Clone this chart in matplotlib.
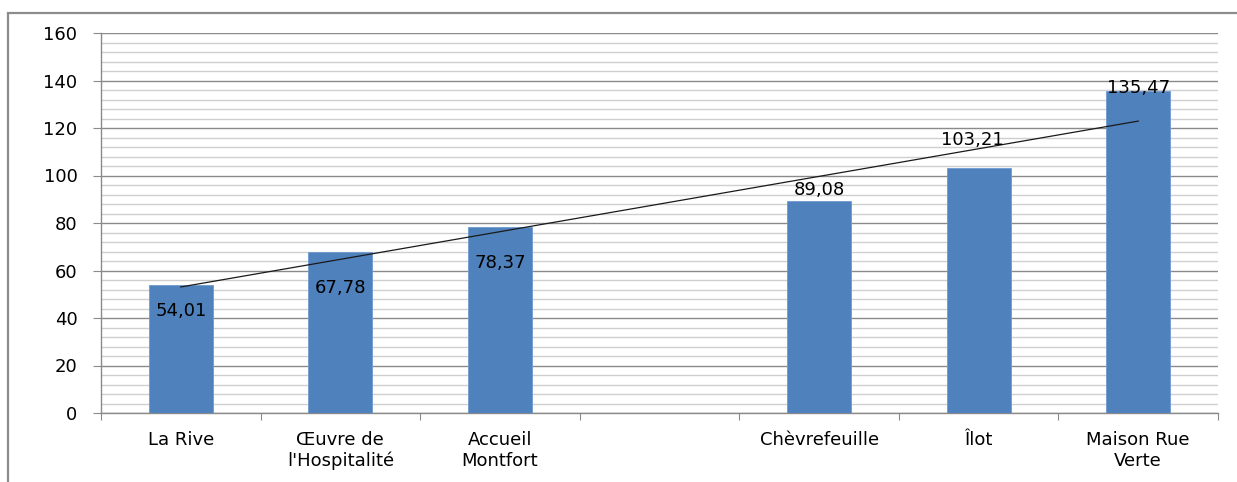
import numpy as np
import matplotlib
matplotlib.use('Agg')
import matplotlib.pyplot as plt
from matplotlib.patches import Rectangle
from matplotlib.ticker import MultipleLocator, FixedLocator

categories = ['La Rive', "Œuvre de\nl'Hospitalité", 'Accueil\nMontfort', '',
              'Chèvrefeuille', 'Îlot', 'Maison Rue\nVerte']
values = [54.01, 67.78, 78.37, np.nan, 89.08, 103.21, 135.47]
value_labels = ['54,01', '67,78', '78,37', '', '89,08', '103,21', '135,47']

# where Excel put the data labels, relative to the bar top
label_dy = [-10.9, -15.2, -15.2, 0, 4.8, 11.7, 1.2]
label_dx = [0, 0, 0, 0, 0, -0.04, 0]

BAR_COLOR = '#4f81bd'
FS = 13

fig = plt.figure(figsize=(12.37, 4.82), dpi=100)
ax = fig.add_axes([101 / 1237, 1 - 413 / 482, (1218 - 101) / 1237, (413 - 33) / 482])

# outer chart frame
fig.patches.append(Rectangle((8 / 1237, -0.1), 1.2, 0.1 + 1 - 13 / 482,
                             transform=fig.transFigure, fill=False,
                             edgecolor='#8c8c8c', lw=1.6))

x = np.arange(len(categories))
ax.bar(x, values, width=0.4, color=BAR_COLOR, edgecolor='#6f9bd1', lw=0.6, zorder=3)

# linear trendline over the bars that have a value
vals = np.array(values)
ok = ~np.isnan(vals)
slope, icpt = np.polyfit(x[ok], vals[ok], 1)
xt = np.array([x[ok][0], x[ok][-1]])
ax.plot(xt, slope * xt + icpt, color='#1a1a1a', lw=0.9, zorder=4)

for i in range(len(values)):
    if value_labels[i] == '':
        continue
    ax.text(x[i] + label_dx[i], values[i] + label_dy[i], value_labels[i],
            ha='center', va='center', fontsize=FS, color='black', zorder=5)

ax.set_xlim(-0.5, len(categories) - 0.5)
ax.set_ylim(0, 160)
ax.yaxis.set_major_locator(MultipleLocator(20))
ax.yaxis.set_minor_locator(MultipleLocator(4))
ax.grid(which='major', axis='y', color='#8a8a8a', lw=1.0, zorder=0)
ax.grid(which='minor', axis='y', color='#cfcfcf', lw=1.0, zorder=0)

ax.xaxis.set_major_locator(FixedLocator(np.arange(-0.5, len(categories), 1.0)))
ax.xaxis.set_minor_locator(FixedLocator(x))
ax.set_xticklabels([], minor=False)
ax.set_xticklabels(categories, minor=True, fontsize=FS, linespacing=1.2)
ax.tick_params(axis='x', which='major', length=5, color='#8a8a8a', direction='out')
ax.tick_params(axis='x', which='minor', length=0, pad=13)
ax.tick_params(axis='y', which='major', length=6, color='#8a8a8a', labelsize=FS, pad=11)
ax.tick_params(axis='y', which='minor', length=0)

for s in ['top', 'right']:
    ax.spines[s].set_visible(False)
for s in ['left', 'bottom']:
    ax.spines[s].set_color('#8a8a8a')
    ax.spines[s].set_linewidth(1.0)

fig.savefig('out.png', dpi=100)
